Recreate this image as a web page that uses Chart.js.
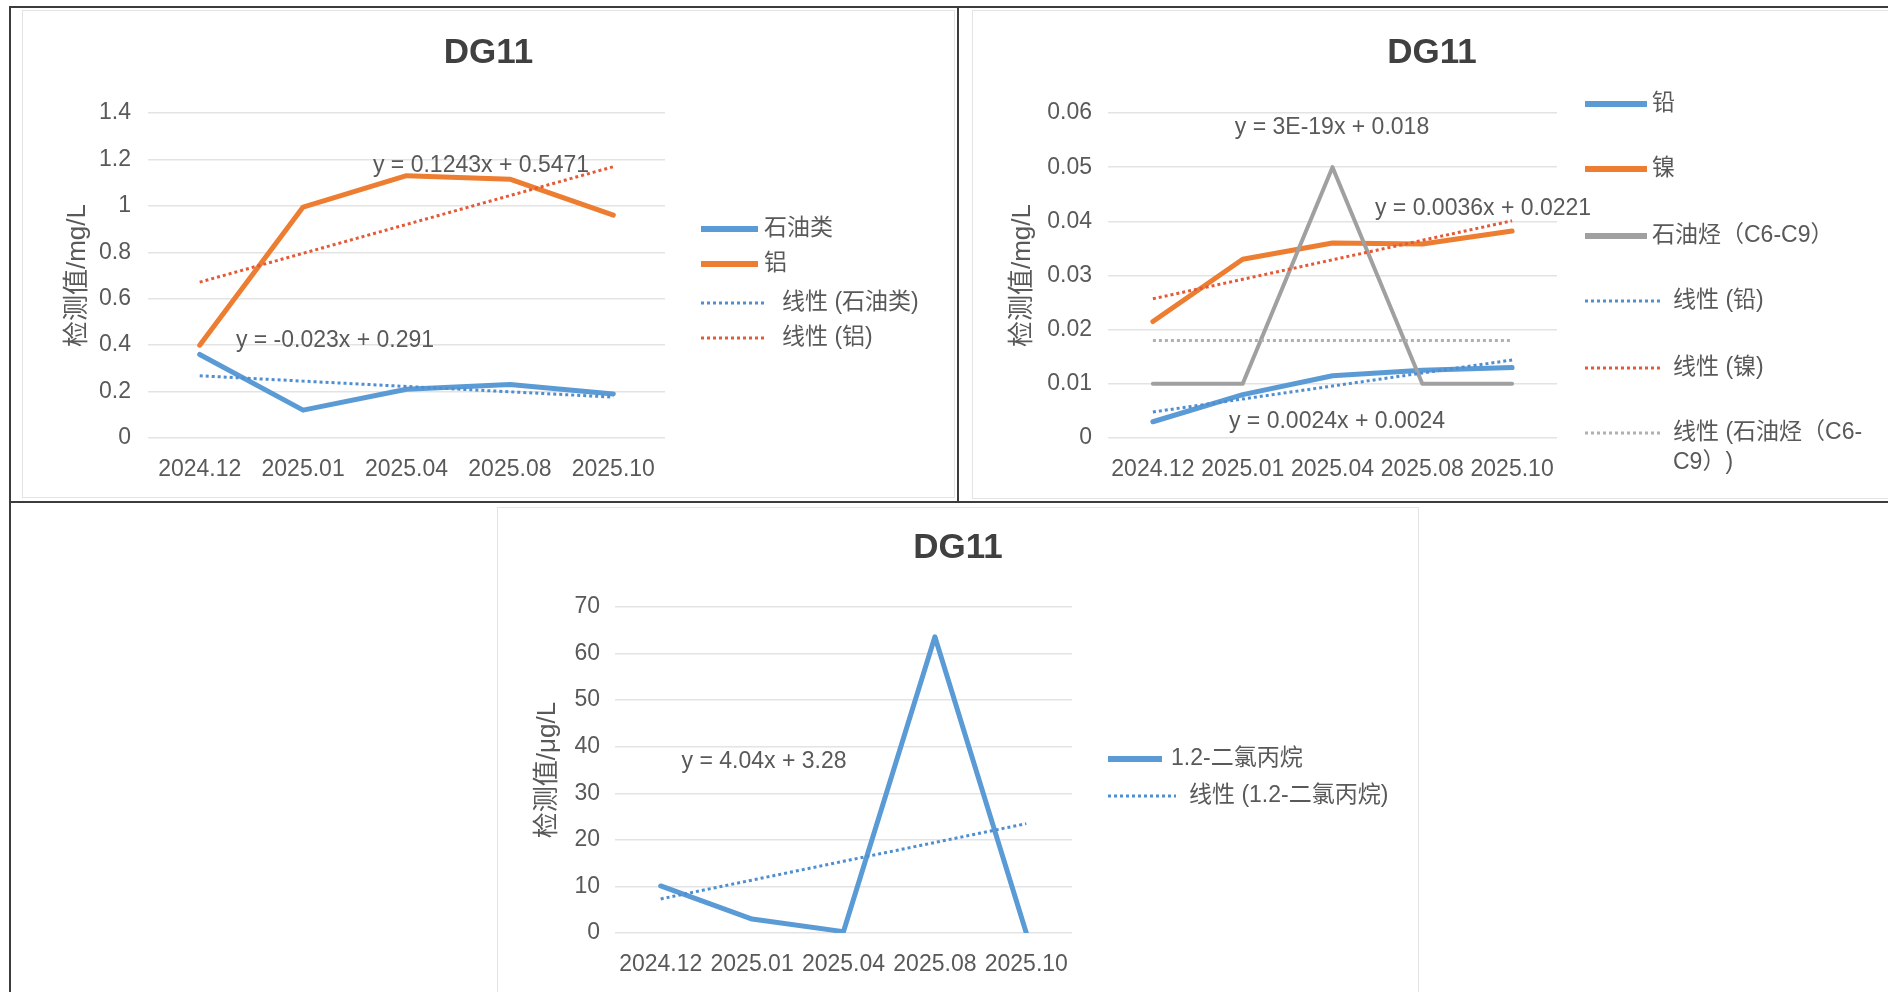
<!DOCTYPE html>
<html>
<head>
<meta charset="utf-8">
<title>DG11</title>
<script src="https://cdn.jsdelivr.net/npm/chart.js@4.4.1/dist/chart.umd.min.js"></script>
<style>
  html, body { margin: 0; padding: 0; background: #ffffff; width: 1888px; height: 992px; overflow: hidden; }
  .rule { position: absolute; background: #3c3c3c; }
  .card { position: absolute; background: #ffffff; border: 1px solid #e4e4e4; box-sizing: border-box; }
  .card canvas { display: block; }
</style>
</head>
<body>
<!-- table frame -->
<div class="rule" style="left:9px;top:6px;width:1879px;height:2px"></div>
<div class="rule" style="left:9px;top:6px;width:2px;height:986px"></div>
<div class="rule" style="left:957px;top:6px;width:2px;height:496px"></div>
<div class="rule" style="left:9px;top:501px;width:1879px;height:2px"></div>

<div class="card" style="left:22px;top:10px;width:933px;height:488px"><canvas id="chartA" width="931" height="486"></canvas></div>
<div class="card" style="left:972px;top:10px;width:920px;height:489px"><canvas id="chartB" width="918" height="487"></canvas></div>
<div class="card" style="left:497px;top:507px;width:922px;height:490px"><canvas id="chartC" width="920" height="488"></canvas></div>

<script>
// ---------- data ----------
const categories = ['2024.12', '2025.01', '2025.04', '2025.08', '2025.10'];

// chart A (mg/L)
const oilLabel = '石油类';
const oilValues = [0.36, 0.12, 0.21, 0.23, 0.19];
const oilTrend = [-0.023, 0.291];          // slope, intercept
const aluminiumLabel = '铝';
const aluminiumValues = [0.40, 0.995, 1.13, 1.115, 0.96];
const aluminiumTrend = [0.1243, 0.5471];
const axisA = [0, 1.4, 0.2];               // min, max, step

// chart B (mg/L)
const leadLabel = '铅';
const leadValues = [0.003, 0.008, 0.0115, 0.0125, 0.013];
const leadTrend = [0.0024, 0.0024];
const nickelLabel = '镍';
const nickelValues = [0.0215, 0.033, 0.036, 0.0358, 0.0382];
const nickelTrend = [0.0036, 0.0221];
const tphLabel = '石油烃（C6-C9）';
const tphValues = [0.01, 0.01, 0.05, 0.01, 0.01];
const tphTrend = [3e-19, 0.018];
const axisB = [0, 0.06, 0.01];

// chart C (μg/L)
const dcpLabel = '1.2-二氯丙烷';
const dcpValues = [10.1, 3.0, 0.3, 63.6, 0];
const dcpTrend = [4.04, 3.28];
const axisC = [0, 70, 10];

const chartTitle = 'DG11';
const unitMg = '检测值/mg/L';
const unitUg = '检测值/μg/L';

// ---------- styling ----------
const FONT = '"Liberation Sans", "Noto Sans CJK SC", sans-serif';
const BLUE = '#5b9bd5', ORANGE = '#ed7d31', GREY = '#a0a0a0';
const BLUE_TREND = '#4f8fd0', ORANGE_TREND = '#e55a36', GREY_TREND = '#b0b0b0';
const TEXT = '#595959';

function coef(v) {
  if (v !== 0 && Math.abs(v) < 1e-6) return v.toExponential(0).toUpperCase();
  return String(v);
}
function equation(t) {
  const [m, b] = t;
  return 'y = ' + coef(m) + 'x ' + (b < 0 ? '- ' + coef(-b) : '+ ' + coef(b));
}
function trendSeries(t) {
  return categories.map((_, i) => t[0] * (i + 1) + t[1]);
}
function seriesSet(label, values, color, width, order) {
  return { label, data: values, borderColor: color, backgroundColor: color, borderWidth: width,
           pointRadius: 0, tension: 0, order, borderJoinStyle: 'round', borderCapStyle: 'round' };
}
function trendSet(label, t, color) {
  return { label: '线性 (' + label + ')', data: trendSeries(t), borderColor: color, backgroundColor: color,
           borderWidth: 3, borderDash: [3, 3], pointRadius: 0, tension: 0, order: 0 };
}

// titles, trend equations and legend painted onto the canvas
const notesPlugin = {
  id: 'notes',
  afterDatasetsDraw(chart, args, o) {
    const ctx = chart.ctx;
    ctx.save();
    ctx.textBaseline = 'middle';
    ctx.textAlign = 'center';
    ctx.fillStyle = '#404040';
    ctx.font = 'bold 35px ' + FONT;
    ctx.fillText(chartTitle, chart.width / 2, o.titleY);

    ctx.fillStyle = TEXT;
    ctx.font = '23px ' + FONT;
    o.equations.forEach(e => ctx.fillText(equation(e.trend), e.x, e.y));

    const L = o.legend;
    ctx.textAlign = 'left';
    chart.data.datasets.forEach((ds, i) => {
      const y = L.rows[i];
      const dotted = Array.isArray(ds.borderDash);
      ctx.beginPath();
      ctx.strokeStyle = ds.borderColor;
      ctx.lineWidth = dotted ? 3 : 6;
      ctx.setLineDash(dotted ? ds.borderDash : []);
      ctx.moveTo(L.x, y);
      ctx.lineTo(L.x + (dotted ? L.dotLen : L.lineLen), y);
      ctx.stroke();
      ctx.setLineDash([]);
      const tx = L.x + (dotted ? L.dotText : L.lineText);
      const maxW = chart.width - tx - 4;
      let text = ds.label;
      if (ctx.measureText(text).width > maxW) {
        let cut = -1;
        for (let k = text.length - 1; k > 0; k--) {
          if ((text[k - 1] === '-' || text[k - 1] === ' ') && ctx.measureText(text.slice(0, k)).width <= maxW) { cut = k; break; }
        }
        if (cut > 0) {
          ctx.fillText(text.slice(0, cut), tx, y);
          ctx.fillText(text.slice(cut), tx, y + 30);
          return;
        }
      }
      ctx.fillText(text, tx, y);
    });
    ctx.restore();
  }
};

function makeChart(id, datasets, axis, unit, box, notes) {
  const canvas = document.getElementById(id);
  const W = canvas.width, H = canvas.height;
  return new Chart(canvas, {
    type: 'line',
    data: { labels: categories, datasets },
    plugins: [notesPlugin],
    options: {
      responsive: false,
      animation: false,
      devicePixelRatio: 1,
      layout: { padding: { left: 0, top: box.top, right: W - box.right, bottom: 0 } },
      plugins: {
        legend: { display: false },
        tooltip: { enabled: false },
        notes
      },
      scales: {
        x: {
          type: 'category',
          offset: true,
          grid: { display: false, drawTicks: false },
          border: { display: false },
          ticks: { color: TEXT, font: { family: FONT, size: 23 }, padding: 18, maxRotation: 0, autoSkip: false },
          afterFit(s) { s.height = H - box.bottom; }
        },
        y: {
          min: axis[0], max: axis[1],
          grid: { color: '#e3e3e3', lineWidth: 1.5, drawTicks: false },
          border: { display: false },
          ticks: {
            stepSize: axis[2], color: TEXT, font: { family: FONT, size: 23 }, padding: box.tickPad,
            callback: v => String(Number(v.toFixed(6)))
          },
          title: { display: true, text: unit, color: TEXT, font: { family: FONT, size: 26 }, padding: { top: box.titlePad, bottom: 0 } },
          afterFit(s) { s.width = box.left; }
        }
      }
    }
  });
}

makeChart('chartA', [
    seriesSet(oilLabel, oilValues, BLUE, 5, 2),
    seriesSet(aluminiumLabel, aluminiumValues, ORANGE, 5, 1),
    trendSet(oilLabel, oilTrend, BLUE_TREND),
    trendSet(aluminiumLabel, aluminiumTrend, ORANGE_TREND)
  ], axisA, unitMg,
  { left: 125, right: 642, top: 102, bottom: 427, tickPad: 17, titlePad: 39 },
  { titleY: 42,
    equations: [ { trend: aluminiumTrend, x: 458, y: 155 }, { trend: oilTrend, x: 312, y: 330 } ],
    legend: { x: 678, lineLen: 57, lineText: 63, dotLen: 65, dotText: 81, rows: [218, 253, 292, 327] } });

makeChart('chartB', [
    seriesSet(leadLabel, leadValues, BLUE, 5, 3),
    seriesSet(nickelLabel, nickelValues, ORANGE, 5, 2),
    seriesSet(tphLabel, tphValues, GREY, 4, 1),
    trendSet(leadLabel, leadTrend, BLUE_TREND),
    trendSet(nickelLabel, nickelTrend, ORANGE_TREND),
    trendSet(tphLabel, tphTrend, GREY_TREND)
  ], axisB, unitMg,
  { left: 135, right: 584, top: 102, bottom: 427, tickPad: 16, titlePad: 34 },
  { titleY: 42,
    equations: [ { trend: tphTrend, x: 359, y: 117 }, { trend: nickelTrend, x: 510, y: 198 }, { trend: leadTrend, x: 364, y: 411 } ],
    legend: { x: 612, lineLen: 62, lineText: 67, dotLen: 76, dotText: 88, rows: [93, 158, 225, 290, 357, 422] } });

makeChart('chartC', [
    seriesSet(dcpLabel, dcpValues, BLUE, 5, 1),
    trendSet(dcpLabel, dcpTrend, BLUE_TREND)
  ], axisC, unitUg,
  { left: 117, right: 574, top: 99, bottom: 425, tickPad: 15, titlePad: 34 },
  { titleY: 40,
    equations: [ { trend: dcpTrend, x: 266, y: 254 } ],
    legend: { x: 610, lineLen: 54, lineText: 63, dotLen: 68, dotText: 81, rows: [251, 288] } });
</script>
</body>
</html>
